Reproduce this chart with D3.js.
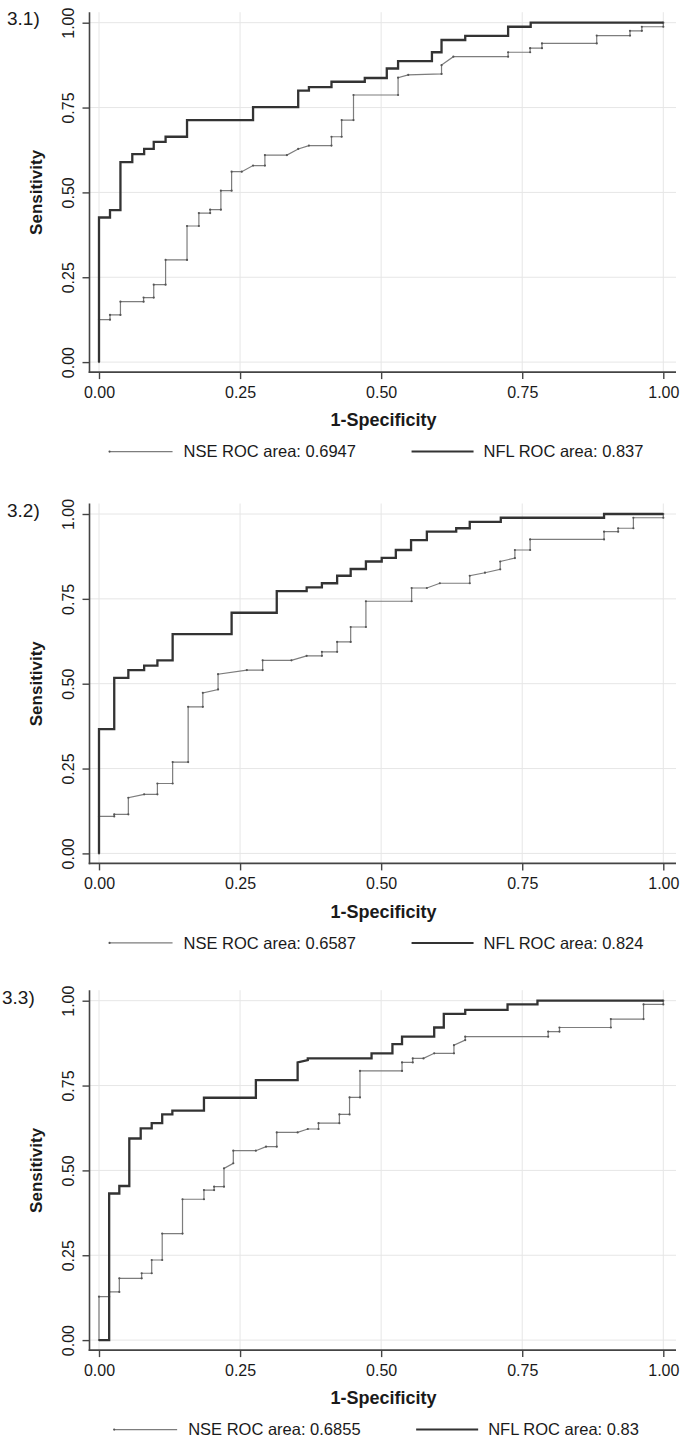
<!DOCTYPE html>
<html><head><meta charset="utf-8">
<script src="https://cdn.jsdelivr.net/npm/d3@7"></script>
<style>body{margin:0;background:#fff}svg{display:block}</style>
</head><body>
<script>
// ---------- data ----------
const panelLabels = ["3.1)", "3.2)", "3.3)"];
const tickValues = [0, 0.25, 0.5, 0.75, 1];
const tickLabels = ["0.00", "0.25", "0.50", "0.75", "1.00"];
const xTitle = "1-Specificity";
const yTitle = "Sensitivity";
const nseAreas = ["0.6947", "0.6587", "0.6855"];
const nflAreas = ["0.837", "0.824", "0.83"];

// ROC curves: [1-specificity, sensitivity]
const nse1 = [[0,0],[0,0.125],[0.0195,0.125],[0.0195,0.139],[0.038,0.139],[0.038,0.178],[0.079,0.178],[0.079,0.190],[0.097,0.190],[0.097,0.228],[0.118,0.228],[0.118,0.301],[0.156,0.301],[0.156,0.401],[0.177,0.401],[0.177,0.439],[0.197,0.439],[0.197,0.449],[0.216,0.449],[0.216,0.505],[0.235,0.505],[0.235,0.561],[0.253,0.561],[0.273,0.579],[0.294,0.579],[0.294,0.610],[0.333,0.610],[0.353,0.628],[0.372,0.638],[0.412,0.638],[0.412,0.664],[0.430,0.664],[0.430,0.713],[0.451,0.713],[0.451,0.787],[0.530,0.787],[0.530,0.838],[0.548,0.846],[0.607,0.849],[0.607,0.875],[0.628,0.900],[0.725,0.900],[0.725,0.913],[0.764,0.913],[0.764,0.925],[0.785,0.925],[0.785,0.939],[0.882,0.939],[0.882,0.962],[0.941,0.962],[0.941,0.976],[0.962,0.976],[0.962,0.988],[1,0.988],[1,1]];
const nfl1 = [[0,0],[0,0.426],[0.0195,0.426],[0.0195,0.448],[0.038,0.448],[0.038,0.589],[0.059,0.589],[0.059,0.613],[0.080,0.613],[0.080,0.628],[0.097,0.628],[0.097,0.649],[0.118,0.649],[0.118,0.664],[0.156,0.664],[0.156,0.713],[0.273,0.713],[0.273,0.751],[0.353,0.751],[0.353,0.800],[0.372,0.800],[0.372,0.810],[0.412,0.810],[0.412,0.826],[0.471,0.826],[0.471,0.837],[0.510,0.837],[0.510,0.865],[0.530,0.865],[0.530,0.887],[0.590,0.887],[0.590,0.913],[0.607,0.913],[0.607,0.949],[0.649,0.949],[0.649,0.961],[0.725,0.961],[0.725,0.988],[0.765,0.988],[0.765,1],[1,1]];
const nse2 = [[0,0],[0,0.109],[0.027,0.109],[0.027,0.115],[0.052,0.115],[0.052,0.164],[0.080,0.174],[0.1035,0.174],[0.1035,0.206],[0.1305,0.206],[0.1305,0.269],[0.158,0.269],[0.158,0.432],[0.184,0.432],[0.184,0.473],[0.211,0.483],[0.211,0.528],[0.262,0.540],[0.290,0.540],[0.290,0.569],[0.341,0.569],[0.368,0.582],[0.395,0.582],[0.395,0.594],[0.422,0.594],[0.422,0.623],[0.446,0.623],[0.446,0.667],[0.473,0.667],[0.473,0.743],[0.554,0.743],[0.554,0.782],[0.581,0.782],[0.604,0.796],[0.657,0.796],[0.657,0.818],[0.684,0.827],[0.711,0.837],[0.711,0.860],[0.737,0.870],[0.737,0.894],[0.764,0.894],[0.764,0.925],[0.895,0.925],[0.895,0.948],[0.920,0.948],[0.920,0.958],[0.947,0.958],[0.947,0.989],[1,0.989],[1,1]];
const nfl2 = [[0,0],[0,0.366],[0.027,0.366],[0.027,0.517],[0.052,0.517],[0.052,0.540],[0.080,0.540],[0.080,0.553],[0.1035,0.553],[0.1035,0.569],[0.1305,0.569],[0.1305,0.646],[0.235,0.646],[0.235,0.709],[0.315,0.709],[0.315,0.773],[0.368,0.773],[0.368,0.784],[0.395,0.784],[0.395,0.796],[0.422,0.796],[0.422,0.818],[0.446,0.818],[0.446,0.838],[0.473,0.838],[0.473,0.860],[0.501,0.860],[0.501,0.871],[0.526,0.871],[0.526,0.894],[0.553,0.894],[0.553,0.923],[0.581,0.923],[0.581,0.948],[0.633,0.948],[0.633,0.958],[0.657,0.958],[0.657,0.977],[0.712,0.977],[0.712,0.989],[0.895,0.989],[0.895,1],[1,1]];
const nse3 = [[0,0],[0,0.128],[0.018,0.128],[0.018,0.142],[0.036,0.142],[0.036,0.182],[0.0756,0.182],[0.0756,0.197],[0.0934,0.197],[0.0934,0.236],[0.112,0.236],[0.112,0.314],[0.148,0.314],[0.148,0.415],[0.186,0.415],[0.186,0.442],[0.204,0.442],[0.204,0.452],[0.2215,0.452],[0.2215,0.506],[0.238,0.521],[0.238,0.558],[0.278,0.558],[0.296,0.570],[0.315,0.570],[0.315,0.612],[0.352,0.612],[0.370,0.622],[0.389,0.622],[0.389,0.639],[0.426,0.639],[0.426,0.665],[0.444,0.665],[0.444,0.715],[0.4625,0.715],[0.4625,0.793],[0.537,0.793],[0.537,0.818],[0.556,0.818],[0.556,0.830],[0.575,0.830],[0.594,0.845],[0.629,0.845],[0.629,0.869],[0.649,0.884],[0.649,0.894],[0.796,0.894],[0.796,0.909],[0.816,0.909],[0.816,0.921],[0.907,0.921],[0.907,0.946],[0.965,0.946],[0.965,0.989],[1,0.989],[1,1]];
const nfl3 = [[0,0],[0.018,0],[0.018,0.432],[0.036,0.432],[0.036,0.454],[0.0537,0.454],[0.0537,0.594],[0.0739,0.594],[0.0739,0.624],[0.0934,0.624],[0.0934,0.639],[0.112,0.639],[0.112,0.665],[0.130,0.665],[0.130,0.676],[0.186,0.676],[0.186,0.714],[0.278,0.714],[0.278,0.766],[0.352,0.766],[0.352,0.818],[0.370,0.825],[0.370,0.830],[0.483,0.830],[0.483,0.845],[0.520,0.845],[0.520,0.872],[0.537,0.872],[0.537,0.894],[0.594,0.894],[0.594,0.921],[0.611,0.921],[0.611,0.961],[0.649,0.961],[0.649,0.973],[0.724,0.973],[0.724,0.989],[0.777,0.989],[0.777,1],[1,1]];

const nseSeries = [nse1, nse2, nse3];
const nflSeries = [nfl1, nfl2, nfl3];

// ---------- layout ----------
const W = 685, H = 1444;
const panelTops = [22.7, 514, 1000.7];   // pixel of sensitivity = 1
const plotH = 339.4;
const axisX = 89.5, plotRight = 676;
const FONT = "'Liberation Sans', Arial, Helvetica, sans-serif";
const TXT = "#1a1a1a";
const NSE_COL = "#7d7d7d";

const svg = d3.select("body").append("svg").attr("width", W).attr("height", H)
  .style("font-family", FONT);

const x = d3.scaleLinear().domain([0, 1]).range([99, 663.3]);

panelLabels.forEach((lab, i) => {
  const top = panelTops[i];
  const y = d3.scaleLinear().domain([0, 1]).range([top + plotH, top]);
  const axisY = top + plotH + 10;
  const plotTop = top - 10.5;
  const g = svg.append("g");

  // gridlines
  g.append("g").selectAll("line").data(tickValues).join("line")
    .attr("x1", axisX).attr("x2", plotRight)
    .attr("y1", d => y(d)).attr("y2", d => y(d))
    .attr("stroke", "#e6e6e6").attr("stroke-width", 1);
  g.append("g").selectAll("line").data(tickValues).join("line")
    .attr("x1", d => x(d)).attr("x2", d => x(d))
    .attr("y1", plotTop).attr("y2", axisY)
    .attr("stroke", "#e6e6e6").attr("stroke-width", 1);

  // axes
  const yAxis = g.append("g").attr("transform", `translate(${axisX},0)`)
    .call(d3.axisLeft(y).tickValues(tickValues).tickSize(7).tickSizeOuter(0)
      .tickFormat((d, k) => tickLabels[k]));
  yAxis.select(".domain").remove();
  yAxis.selectAll(".tick line").attr("stroke", "#444").attr("stroke-width", 1.4);
  yAxis.selectAll(".tick text")
    .attr("transform", "rotate(-90)")
    .attr("x", 0).attr("y", -21).attr("dy", "0.35em")
    .attr("text-anchor", "middle")
    .style("font-size", "16px").style("font-family", FONT).attr("fill", TXT);

  const xAxis = g.append("g").attr("transform", `translate(0,${axisY})`)
    .call(d3.axisBottom(x).tickValues(tickValues).tickSize(7).tickSizeOuter(0)
      .tickFormat((d, k) => tickLabels[k]));
  xAxis.select(".domain").remove();
  xAxis.selectAll(".tick line").attr("stroke", "#444").attr("stroke-width", 1.4);
  xAxis.selectAll(".tick text")
    .attr("y", 20).attr("dy", "0.35em")
    .style("font-size", "16px").style("font-family", FONT).attr("fill", TXT);

  g.append("line").attr("x1", axisX).attr("x2", axisX)
    .attr("y1", plotTop).attr("y2", axisY + 0.8)
    .attr("stroke", "#444").attr("stroke-width", 1.6);
  g.append("line").attr("x1", axisX - 0.8).attr("x2", plotRight)
    .attr("y1", axisY).attr("y2", axisY)
    .attr("stroke", "#444").attr("stroke-width", 1.6);

  // curves
  const line = d3.line().x(d => x(d[0])).y(d => y(d[1]));
  g.append("path").datum(nseSeries[i]).attr("d", line)
    .attr("fill", "none").attr("stroke", NSE_COL).attr("stroke-width", 1.2);
  g.append("g").selectAll("circle").data(nseSeries[i]).join("circle")
    .attr("cx", d => x(d[0])).attr("cy", d => y(d[1])).attr("r", 1.1)
    .attr("fill", "#555");
  g.append("path").datum(nflSeries[i]).attr("d", line)
    .attr("fill", "none").attr("stroke", "#333").attr("stroke-width", 2.3)
    .attr("stroke-linejoin", "miter");

  // titles
  g.append("text").attr("x", 383.5).attr("y", axisY + 48).attr("dy", "0.35em")
    .attr("text-anchor", "middle").style("font-size", "18px").style("font-weight", "bold")
    .attr("fill", TXT).text(xTitle);
  g.append("text").attr("transform", `translate(36,${top + plotH / 2}) rotate(-90)`)
    .attr("dy", "0.35em").attr("text-anchor", "middle")
    .style("font-size", "17px").style("font-weight", "bold")
    .attr("fill", TXT).text(yTitle);

  // panel label
  g.append("text").attr("x", i === 2 ? 2 : 7).attr("y", top - 4.5 + (i === 0 ? 0 : 1)).attr("dy", "0.35em")
    .style("font-size", "19px").attr("fill", TXT).text(lab);

  // legend
  const ly = axisY + 79.5;
  const leg = g.append("g");
  leg.append("text").attr("x", 74).attr("y", ly).attr("dy", "0.35em")
    .style("font-size", "16.5px").attr("fill", TXT).text(`NSE ROC area: ${nseAreas[i]}`);
  const t2 = leg.append("text").attr("x", 302 + 72).attr("y", ly).attr("dy", "0.35em")
    .style("font-size", "16.5px").attr("fill", TXT).text(`NFL ROC area: ${nflAreas[i]}`);
  leg.append("line").attr("x1", 0).attr("x2", 63).attr("y1", ly).attr("y2", ly)
    .attr("stroke", NSE_COL).attr("stroke-width", 1.2);
  leg.append("circle").attr("cx", 0).attr("cy", ly).attr("r", 1.1).attr("fill", "#555");
  leg.append("line").attr("x1", 302).attr("x2", 302 + 62).attr("y1", ly).attr("y2", ly)
    .attr("stroke", "#333").attr("stroke-width", 2);
  const total = 302 + 72 + t2.node().getComputedTextLength();
  leg.attr("transform", `translate(${376.5 - total / 2},0)`);
});
</script>
</body></html>
